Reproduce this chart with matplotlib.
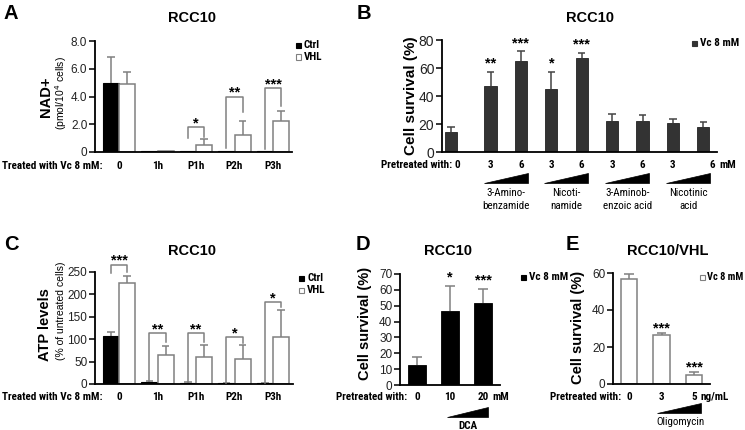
import os
import numpy as np
import matplotlib
matplotlib.use('Agg')
import matplotlib.pyplot as plt
from matplotlib.patches import Polygon, Rectangle
from matplotlib.transforms import blended_transform_factory
from matplotlib import font_manager
from matplotlib.font_manager import FontProperties

# ---------------- data ----------------
A_groups = ["0", "1h", "P1h", "P2h", "P3h"]
A_ctrl = [4.95, 0.05, 0.05, 0.05, 0.05]
A_ctrl_err = [1.9, 0.0, 0.0, 0.0, 0.0]
A_vhl = [4.9, 0.05, 0.5, 1.2, 2.2]
A_vhl_err = [0.85, 0.0, 0.45, 1.0, 0.75]
# (group, bracket top, left leg bottom, right leg bottom, label)
A_brackets = [(2, 1.82, 1.0, 1.1, "*"), (3, 4.0, 0.3, 2.85, "**"), (4, 4.6, 0.2, 3.3, "***")]

B_labels = ["0", "3", "6", "3", "6", "3", "6", "3", "6"]
B_vals = [14.3, 47.3, 65.3, 45.3, 66.9, 22.5, 21.8, 20.9, 18.0]
B_err = [3.6, 9.8, 6.5, 11.7, 4.1, 4.5, 4.8, 2.8, 3.6]
B_sig = ["", "**", "***", "*", "***", "", "", "", ""]
B_compounds = [("3-Amino-", "benzamide"), ("Nicoti-", "namide"),
               ("3-Aminob-", "enzoic acid"), ("Nicotinic", "acid")]

C_groups = ["0", "1h", "P1h", "P2h", "P3h"]
C_ctrl = [108, 5, 2.5, 1.5, 1.5]
C_ctrl_err = [8, 2, 1, 0.5, 0.5]
C_vhl = [225, 64, 60, 56, 106]
C_vhl_err = [17, 20, 26, 31, 60]
C_brackets = [(0, 266, 248, 250, "***"), (1, 114, 8, 94, "**"), (2, 114, 5, 94, "**"),
              (3, 105, 3, 92, "*"), (4, 182, 3, 172, "*")]

D_labels = ["0", "10", "20"]
D_vals = [12.3, 46.4, 51.6]
D_err = [5.5, 16.1, 8.8]
D_sig = ["", "*", "***"]

E_labels = ["0", "3", "5"]
E_vals = [56.8, 26.3, 5.0]
E_err = [2.8, 1.3, 1.5]
E_sig = ["", "***", "***"]

# ---------------- setup ----------------
W, H = 745, 430
fig = plt.figure(figsize=(W / 100, H / 100), dpi=100)
plt.rcParams['font.family'] = ['Liberation Sans', 'DejaVu Sans']
GRAY = '#808080'


def find_narrow(bold):
    prefs = ['liberationsansnarrow', 'arialnarrow', 'robotocondensed', 'notosans-condensed',
             'notosanscondensed', 'opensans-condensed', 'opensanscondensed', 'dejavusanscondensed']
    best, best_rank = None, 99
    for f in font_manager.fontManager.ttflist:
        fn = os.path.basename(f.fname).lower().replace('_', '').replace(' ', '')
        if any(k in fn for k in ['italic', 'oblique', 'semibold', 'extrabold', 'demibold', 'light',
                                 'thin', 'medium', 'black', 'semicondensed', 'extracondensed']):
            continue
        if ('bold' in fn) != bold:
            continue
        for rank, p in enumerate(prefs):
            if p in fn and rank < best_rank:
                best, best_rank = f.fname, rank
    return best


NB_PATH = find_narrow(True)
NR_PATH = find_narrow(False)


def fprop(bold, size):
    path = NB_PATH if bold else NR_PATH
    if path:
        return FontProperties(fname=path, size=size)
    return FontProperties(family='Liberation Sans', weight='bold' if bold else 'normal', size=size)


renderer = fig.canvas.get_renderer()


def fit_size(s, target, bold, base=10.0, cap=9.5):
    t = fig.text(0, 0, s, fontproperties=fprop(bold, base))
    w = t.get_window_extent(renderer).width
    t.remove()
    return min(cap, base * target / w)


SB = fit_size("Treated with Vc 8 mM:", 101, True)
SR = fit_size("benzamide", 47, False)


def NBp(scale=1.0):
    return fprop(True, SB * scale)


def NRp():
    return fprop(False, SR)


def fx(x):
    return x / W


def fy(y):
    return 1 - y / H


def make_ax(x0, y0, x1, y1, ylim, yticks, yticklabels, ls=8.5):
    ax = fig.add_axes([fx(x0), fy(y1), (x1 - x0) / W, (y1 - y0) / H])
    ax.spines['top'].set_visible(False)
    ax.spines['right'].set_visible(False)
    for s in ['left', 'bottom']:
        ax.spines[s].set_linewidth(1.3)
    ax.tick_params(axis='y', direction='out', length=4, width=1.1, labelsize=ls, pad=1.5,
                   labelcolor='#222222')
    ax.tick_params(axis='x', length=0, labelbottom=False)
    ax.set_ylim(*ylim)
    ax.set_yticks(yticks)
    ax.set_yticklabels(yticklabels)
    ax.patch.set_alpha(0)
    return ax


def tx(ax, x, ypx, s, **kw):
    ax.text(x, fy(ypx), s, transform=blended_transform_factory(ax.transData, fig.transFigure), **kw)


def wedge(ax, xa, xb, ytop, ybot):
    tr = blended_transform_factory(ax.transData, fig.transFigure)
    p = Polygon([(xa, fy(ybot)), (xb, fy(ybot)), (xb, fy(ytop))], closed=True,
                transform=tr, facecolor='black', edgecolor='black', lw=0.5)
    fig.add_artist(p)


def errs(ax, xs, vals, es, cw, color=GRAY):
    for x, v, e in zip(xs, vals, es):
        if e <= 0:
            continue
        ax.vlines(x, v, v + e, color=color, lw=1.1, zorder=1, clip_on=False)
        ax.hlines(v + e, x - cw, x + cw, color=color, lw=1.1, zorder=1, clip_on=False)


def legend_sq(x, y, fc, ec, label, scale=1.0, gap=8):
    fig.add_artist(Rectangle((fx(x), fy(y + 2.5)), 5 / W, 5 / H, transform=fig.transFigure,
                             facecolor=fc, edgecolor=ec, lw=0.8))
    fig.text(fx(x + gap), fy(y), label, ha='left', va='center', fontproperties=NBp(scale))


def letter(x, y, s):
    fig.text(fx(x), fy(y), s, ha='left', va='center', fontsize=14.5, fontweight='bold')


def title(x, y, s):
    fig.text(fx(x), fy(y), s, ha='center', va='center', fontsize=10.5, fontweight='bold')


def vlabel(x, y, s, size, bold=True):
    fig.text(fx(x), fy(y), s, rotation=90, ha='center', va='center', fontsize=size,
             fontweight='bold' if bold else 'normal')


def grouped(ax, ctrl, cerr, vhl, verr, brackets, ytop_txt_offset):
    x = np.arange(len(ctrl))
    w = 0.42
    ax.bar(x - w / 2, ctrl, w, color='black', edgecolor='black', lw=0.8, zorder=2)
    ax.bar(x + w / 2, vhl, w, color='white', edgecolor=GRAY, lw=1.1, zorder=2)
    errs(ax, x - w / 2, ctrl, cerr, 0.1)
    errs(ax, x + w / 2, vhl, verr, 0.1)
    for g, top, lb, rb, lab in brackets:
        xl, xr = g - w / 2, g + w / 2
        ax.plot([xl, xl, xr, xr], [lb, top, top, rb], color=GRAY, lw=1.1, clip_on=False, zorder=3)
        ax.text(g, top + ytop_txt_offset, lab, ha='center', va='bottom', fontsize=10.5,
                fontweight='bold', clip_on=False)
    return x


# ---------------- Panel A ----------------
axA = make_ax(95, 41, 292, 152, (0, 8), [0, 2, 4, 6, 8], ["0", "2.0", "4.0", "6.0", "8.0"])
axA.set_xlim((95 - 119) / 38.5, (292 - 119) / 38.5)
xa = grouped(axA, A_ctrl, A_ctrl_err, A_vhl, A_vhl_err, A_brackets, -0.25)
for xi, lab in zip(xa, A_groups):
    tx(axA, xi, 166, lab, ha='center', va='center', fontproperties=NBp())
fig.text(fx(103), fy(166), "Treated with Vc 8 mM:", ha='right', va='center', fontproperties=NBp())
letter(3, 13.5, "A")
title(192, 18, "RCC10")
vlabel(46, 97, "NAD+", 10.5)
vlabel(61, 93, "(pmol/10$^4$ cells)", 7.5, bold=False)
legend_sq(296, 45.5, 'black', 'black', "Ctrl")
legend_sq(296, 57, 'white', GRAY, "VHL")

# ---------------- Panel B ----------------
axB = make_ax(442, 40, 717, 152, (0, 80), [0, 20, 40, 60, 80], ["0", "20", "40", "60", "80"], ls=10)
bx = np.array([0, 1.3, 2.3, 3.3, 4.3, 5.3, 6.3, 7.3, 8.3])
axB.set_xlim((442 - 451) / 30.4, (717 - 451) / 30.4)
axB.bar(bx, B_vals, 0.4, color='#333333', edgecolor='#222222', lw=0.6, zorder=2)
errs(axB, bx, B_vals, B_err, 0.12, color='#444444')
for xi, v, e, s in zip(bx, B_vals, B_err, B_sig):
    if s:
        axB.text(xi, v + e + 1.0, s, ha='center', va='bottom', fontsize=10.5, fontweight='bold')
for i, (xi, lab) in enumerate(zip(bx, B_labels)):
    off = 0.28 if i == len(bx) - 1 else (0.2 if i == 0 else 0)
    tx(axB, xi + off, 165, lab, ha='center', va='center', fontproperties=NBp())
tx(axB, 8.82, 165, "mM", ha='left', va='center', fontproperties=NBp())
fig.text(fx(452), fy(165), "Pretreated with:", ha='right', va='center', fontproperties=NBp())
for k, (l1, l2) in enumerate(B_compounds):
    a, b = bx[1 + 2 * k], bx[2 + 2 * k]
    wedge(axB, a - 0.23, b + 0.22, 173, 183)
    tx(axB, (a + b) / 2, 193, l1, ha='center', va='center', fontproperties=NRp())
    tx(axB, (a + b) / 2, 206, l2, ha='center', va='center', fontproperties=NRp())
letter(357, 13.5, "B")
title(590, 18, "RCC10")
vlabel(411, 96, "Cell survival (%)", 11)
legend_sq(692, 43.5, '#333333', '#333333', "Vc 8 mM")

# ---------------- Panel C ----------------
axC = make_ax(95, 272, 293, 384, (0, 250), [0, 50, 100, 150, 200, 250],
              ["0", "50", "100", "150", "200", "250"])
axC.set_xlim((95 - 119) / 38.5, (293 - 119) / 38.5)
xc = grouped(axC, C_ctrl, C_ctrl_err, C_vhl, C_vhl_err, C_brackets, -7)
for xi, lab in zip(xc, C_groups):
    tx(axC, xi, 397, lab, ha='center', va='center', fontproperties=NBp())
fig.text(fx(103), fy(397), "Treated with Vc 8 mM:", ha='right', va='center', fontproperties=NBp())
letter(4, 245, "C")
title(192, 251, "RCC10")
vlabel(45, 325, "ATP levels", 10.5)
vlabel(61, 311, "(% of untreated cells)", 7.5, bold=False)
legend_sq(299, 278, 'black', 'black', "Ctrl")
legend_sq(299, 290, 'white', GRAY, "VHL")

# ---------------- Panel D ----------------
axD = make_ax(400, 274, 500, 385, (0, 70), list(range(0, 71, 10)), [str(v) for v in range(0, 71, 10)])
dx = np.arange(3)
axD.set_xlim((400 - 417) / 33, (500 - 417) / 33)
axD.bar(dx, D_vals, 0.52, color='black', edgecolor='black', lw=0.6, zorder=2)
errs(axD, dx, D_vals, D_err, 0.15)
for xi, v, e, s in zip(dx, D_vals, D_err, D_sig):
    if s:
        axD.text(xi, v + e + 0.8, s, ha='center', va='bottom', fontsize=10.5, fontweight='bold')
for xi, lab in zip(dx, D_labels):
    tx(axD, xi, 397, lab, ha='center', va='center', fontproperties=NBp())
tx(axD, 2.28, 397, "mM", ha='left', va='center', fontproperties=NBp())
fig.text(fx(407), fy(397), "Pretreated with:", ha='right', va='center', fontproperties=NBp())
wedge(axD, 0.91, 2.15, 407, 417)
tx(axD, 1.53, 426, "DCA", ha='center', va='center', fontproperties=NBp())
letter(356, 245, "D")
title(448, 251, "RCC10")
vlabel(365, 323, "Cell survival (%)", 10.5)
legend_sq(521, 277, 'black', 'black', "Vc 8 mM")

# ---------------- Panel E ----------------
axE = make_ax(613, 273, 710, 384, (0, 60), [0, 20, 40, 60], ["0", "20", "40", "60"])
ex = np.arange(3)
axE.set_xlim((613 - 629) / 32.5, (710 - 629) / 32.5)
axE.bar(ex, E_vals, 0.5, color='white', edgecolor=GRAY, lw=1.1, zorder=2)
errs(axE, ex, E_vals, E_err, 0.14)
for xi, v, e, s in zip(ex, E_vals, E_err, E_sig):
    if s:
        axE.text(xi, v + e - 1.5, s, ha='center', va='bottom', fontsize=10.5, fontweight='bold')
for xi, lab in zip(ex, E_labels):
    tx(axE, xi, 397, lab, ha='center', va='center', fontproperties=NBp())
tx(axE, 2.2, 397, "ng/mL", ha='left', va='center', fontproperties=NBp())
fig.text(fx(621), fy(397), "Pretreated with:", ha='right', va='center', fontproperties=NBp())
wedge(axE, 0.85, 2.2, 403, 413)
tx(axE, 1.57, 422, "Oligomycin", ha='center', va='center', fontproperties=NRp())
letter(566, 245, "E")
title(668, 251, "RCC10/VHL")
vlabel(578, 327, "Cell survival (%)", 10.5)
legend_sq(700, 277, 'white', GRAY, "Vc 8 mM", scale=0.93, gap=7)

fig.savefig('out.png', dpi=100)
